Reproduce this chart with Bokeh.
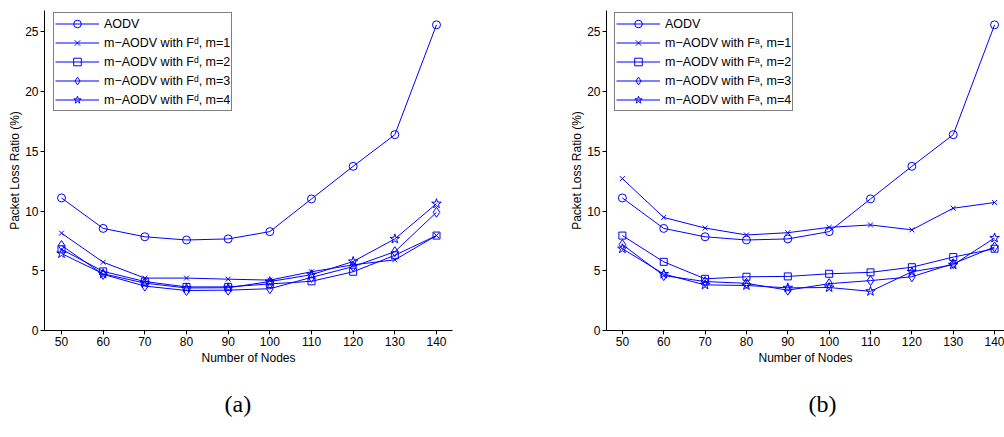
from bokeh.plotting import figure
from bokeh.layouts import row
from bokeh.models import FixedTicker, Legend, LegendItem, Title, Range1d
from bokeh.embed import file_html
from bokeh.resources import INLINE

nodes = [50, 60, 70, 80, 90, 100, 110, 120, 130, 140]
aodv = [11.1, 8.55, 7.85, 7.58, 7.67, 8.28, 11.02, 13.75, 16.4, 25.6]

# panel (a): F^d
a_m1 = [8.15, 5.72, 4.39, 4.39, 4.3, 4.22, 4.92, 5.5, 5.92, 7.95]
a_m2 = [6.8, 4.95, 4.1, 3.65, 3.65, 3.9, 4.12, 4.92, 6.3, 7.95]
a_m3 = [7.12, 4.7, 3.72, 3.35, 3.38, 3.5, 4.45, 5.35, 6.6, 9.9]
a_m4 = [6.45, 4.75, 3.97, 3.56, 3.58, 4.1, 4.67, 5.78, 7.67, 10.62]

# panel (b): F^a
b_m1 = [12.72, 9.47, 8.58, 8.0, 8.19, 8.64, 8.84, 8.43, 10.24, 10.72]
b_m2 = [7.95, 5.75, 4.33, 4.5, 4.53, 4.75, 4.87, 5.3, 6.15, 6.85]
b_m3 = [7.2, 4.6, 4.1, 3.95, 3.38, 3.92, 4.18, 4.5, 5.6, 7.0]
b_m4 = [6.85, 4.73, 3.82, 3.77, 3.57, 3.6, 3.28, 4.92, 5.5, 7.75]

labels_a = ["AODV", "m\u2212AODV with F\u1d48, m=1", "m\u2212AODV with F\u1d48, m=2",
            "m\u2212AODV with F\u1d48, m=3", "m\u2212AODV with F\u1d48, m=4"]
labels_b = ["AODV", "m\u2212AODV with F\u1d43, m=1", "m\u2212AODV with F\u1d43, m=2",
            "m\u2212AODV with F\u1d43, m=3", "m\u2212AODV with F\u1d43, m=4"]

x_ticks = [50, 60, 70, 80, 90, 100, 110, 120, 130, 140]
y_ticks = [0, 5, 10, 15, 20, 25]

markers = ["circle", "x", "square", "diamond", "star"]
msizes = [8, 7, 7, 10, 10]
BLUE = "#0000FF"
FONT = "Liberation Sans"


def make_panel(series, labels, xr, width, border_left, border_right, caption, cap_offset, legend_x):
    p = figure(width=width, height=437, x_range=Range1d(*xr), y_range=Range1d(0, 26.8),
               output_backend="svg", toolbar_location=None,
               min_border_left=border_left, min_border_right=border_right,
               min_border_top=10, min_border_bottom=106)
    p.outline_line_color = None
    p.xgrid.visible = False
    p.ygrid.visible = False
    p.background_fill_color = "white"
    p.border_fill_color = "white"

    items = []
    for ys, lab, mk, ms in zip(series, labels, markers, msizes):
        lr = p.line(nodes, ys, line_color=BLUE, line_width=1)
        sr = p.scatter(nodes, ys, marker=mk, size=ms, line_color=BLUE,
                       fill_color=None, line_width=1)
        items.append(LegendItem(label=lab, renderers=[lr, sr]))

    for ax in (p.xaxis[0], p.yaxis[0]):
        ax.axis_line_color = "black"
        ax.axis_line_width = 1
        ax.major_tick_line_color = "black"
        ax.major_tick_out = 4
        ax.major_tick_in = 0
        ax.minor_tick_line_color = None
        ax.major_label_text_font = FONT
        ax.major_label_text_font_size = "12px"
        ax.major_label_text_color = "black"
        ax.axis_label_text_font = FONT
        ax.axis_label_text_font_size = "12px"
        ax.axis_label_text_font_style = "normal"
        ax.axis_label_text_color = "black"
    p.xaxis.ticker = FixedTicker(ticks=x_ticks)
    p.yaxis.ticker = FixedTicker(ticks=y_ticks)
    p.xaxis.axis_label = "Number of Nodes"
    p.yaxis.axis_label = "Packet Loss Ratio (%)"
    p.xaxis.major_label_standoff = 2
    p.xaxis.axis_label_standoff = 2
    p.yaxis.major_label_standoff = 2
    p.yaxis.axis_label_standoff = 0

    leg = Legend(items=items, location=(legend_x, 219))
    leg.label_text_font = FONT
    leg.label_text_font_size = "12.5px"
    leg.label_text_color = "black"
    leg.glyph_width = 44
    leg.glyph_height = 19
    leg.label_height = 19
    leg.label_standoff = 5
    leg.spacing = 0
    leg.padding = 1
    leg.margin = 0
    leg.border_line_color = "black"
    leg.border_line_width = 1
    leg.background_fill_alpha = 1
    p.add_layout(leg, "center")

    p.add_layout(Title(text=caption, align="left", offset=cap_offset, standoff=42,
                       text_font="Liberation Serif", text_font_size="24px",
                       text_font_style="normal", text_color="black"), "below")
    return p


pa = make_panel([aodv, a_m1, a_m2, a_m3, a_m4], labels_a, (45.92, 143.84), 567, 44, 115,
                "(a)", 180, 9)
pb = make_panel([aodv, b_m1, b_m2, b_m3, b_m4], labels_b, (46.16, 142.4), 437, 36, 0,
                "(b)", 202, 8)

layout = row(pa, pb)
open("out.html", "w").write(file_html(layout, INLINE))
